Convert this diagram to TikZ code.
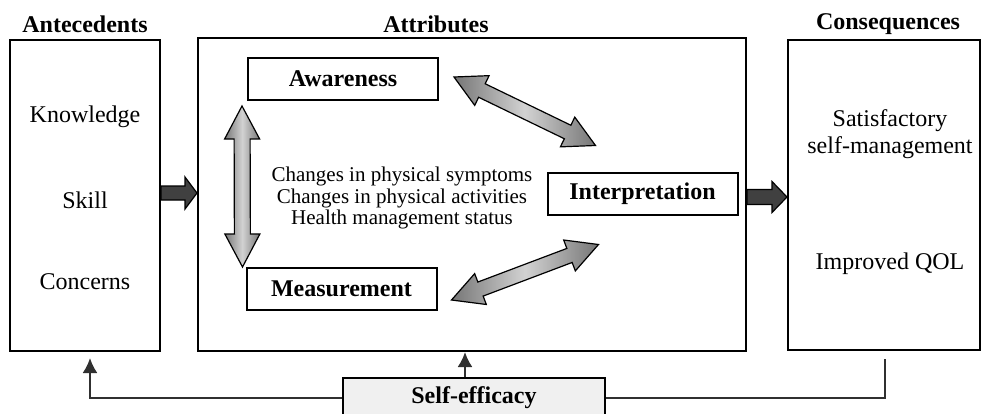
\documentclass[tikz,border=0pt]{standalone}
\usepackage{fontspec}
\setmainfont{Liberation Serif}
\usetikzlibrary{calc,arrows.meta}

\definecolor{arrdark}{HTML}{404040}
\definecolor{arrmid}{HTML}{767676}
\definecolor{arrlight}{HTML}{D2D2D2}
\definecolor{selffill}{HTML}{F0F0F0}
\definecolor{linkgray}{HTML}{303030}

\newcommand{\bodysize}{\fontsize{12}{13.5}\selectfont}

% block arrow with one head: style, from, to, shaft half width, head half width, head length
\newcommand{\onearrow}[6]{%
  \coordinate (ba) at ($(#3)!#6!(#2)$);
  \draw[#1] ($(#2)!#4!90:(#3)$) -- ($(ba)!#4!-90:(#2)$) -- ($(ba)!#5!-90:(#2)$) -- (#3)
    -- ($(ba)!#5!90:(#2)$) -- ($(ba)!#4!90:(#2)$) -- ($(#2)!#4!-90:(#3)$) -- cycle;}
% block arrow with two heads, same arguments
\newcommand{\twoarrow}[6]{%
  \coordinate (bta) at ($(#2)!#6!(#3)$);
  \coordinate (btb) at ($(#3)!#6!(#2)$);
  \draw[#1] (#2) -- ($(bta)!#5!90:(#3)$) -- ($(bta)!#4!90:(#3)$) -- ($(btb)!#4!-90:(#2)$)
    -- ($(btb)!#5!-90:(#2)$) -- (#3) -- ($(btb)!#5!90:(#2)$) -- ($(btb)!#4!90:(#2)$)
    -- ($(bta)!#4!-90:(#3)$) -- ($(bta)!#5!-90:(#3)$) -- cycle;}

\begin{document}
\begin{tikzpicture}[x=0.5pt, y=-0.5pt,
    every node/.style={font=\bodysize},
    panel/.style={draw, line width=1pt, inner sep=0pt},
    headlabel/.style={font=\bodysize\bfseries},
    item/.style={align=center},
    conceptbox/.style={draw, line width=1pt, font=\bodysize\bfseries, inner sep=0pt,
      minimum width=95pt, minimum height=21pt},
    link/.style={draw=linkgray, line width=1.1pt},
    tipped/.style={-{Latex[length=7.5pt,width=7.5pt]}},
    flatarrow/.style={fill=arrdark, draw=black, line width=0.6pt},
    shadearrow/.style={left color=arrmid, right color=arrmid, middle color=arrlight,
      draw=black, line width=0.6pt}]
  \clip (0,0) rectangle (981,413);

  \node[panel, minimum width=75pt, minimum height=155.5pt] (ante) at (85,195.5) {};
  \node[panel, minimum width=274pt, minimum height=156.5pt] (attr) at (472,194.5) {};
  \node[panel, minimum width=96pt, minimum height=155pt] (cons) at (884,195) {};

  \node[headlabel] (antelab) at (85,24) {Antecedents};
  \node[headlabel] (attrlab) at (436,24) {Attributes};
  \node[headlabel] (conslab) at (888,24) {Consequences};

  \node (know) at (85,117) {Knowledge};
  \node (skill) at (85,200) {Skill};
  \node (concern) at (85,282) {Concerns};

  \node[item] (satis) at (890,134) {Satisfactory\\self-management};
  \node (qol) at (890,264) {Improved QOL};

  \node[conceptbox] (aware) at (343,79) {Awareness};
  \node[conceptbox] (meas) at (341.5,289) {Measurement};
  \node[conceptbox] (interp) at (642.5,193.5) {Interpretation};

  \node[item, font=\fontsize{10.5}{8.9}\selectfont] (changes) at (402,198)
    {Changes in physical symptoms\\Changes in physical activities\\Health management status};

  \node[draw, line width=1pt, fill=selffill, font=\bodysize\bfseries, inner sep=0pt,
    minimum width=131pt, minimum height=20pt] (self) at (474,398) {Self-efficacy};

  % block arrows
  \coordinate (a1) at ($(ante.east)+(0,-2.5)$);
  \coordinate (a2) at (attr.west |- a1);
  \onearrow{flatarrow}{a1}{a2}{3.5pt}{8pt}{6pt}
  \coordinate (b1) at ($(attr.east)+(0,2.5)$);
  \coordinate (b2) at (cons.west |- b1);
  \onearrow{flatarrow}{b1}{b2}{3.75pt}{7.75pt}{7.5pt}

  \coordinate (v1) at ($(aware.south west)+(-5,5)$);
  \coordinate (v2) at ($(meas.north west)+(-3,0)$);
  \twoarrow{shadearrow}{v1}{v2}{4pt}{8.75pt}{16.5pt}
  \coordinate (u1) at ($(aware.east)+(15,-2)$);
  \coordinate (u2) at ($(interp.north west)+(49,-26)$);
  \twoarrow{shadearrow}{u1}{u2}{3.75pt}{8.25pt}{15.5pt}
  \coordinate (l1) at ($(meas.east)+(14,11)$);
  \coordinate (l2) at ($(interp.south west)+(52,29)$);
  \twoarrow{shadearrow}{l1}{l2}{3.75pt}{8.25pt}{15.5pt}

  % self-efficacy feedback
  \draw[link, tipped] (self.west) -| ($(ante.south)+(5,6)$);
  \draw[link] (self.east) -| ($(cons.south)+(1,8)$);
  \draw[link, tipped] ($(self.north)+(-9,0)$) -- ($(attr.south)+(-7,0)$);
\end{tikzpicture}
\end{document}
